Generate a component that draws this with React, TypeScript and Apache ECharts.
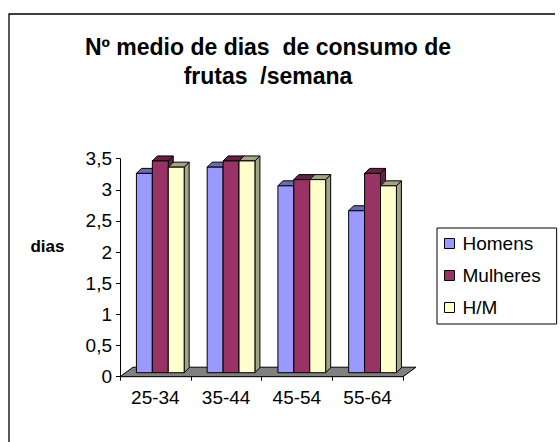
import React, { useEffect, useRef } from "react";
import * as echarts from "echarts";

const categories = ["25-34", "35-44", "45-54", "55-64"];
const homens = [3.2, 3.3, 3.0, 2.6];
const mulheres = [3.4, 3.4, 3.1, 3.2];
const hm = [3.3, 3.4, 3.1, 3.0];
const seriesNames = ["Homens", "Mulheres", "H/M"];
const yTicks = { min: 0, max: 3.5, interval: 0.5 };

const FONT = "Liberation Sans, Arial, sans-serif";
const fronts = ["#9999FF", "#993366", "#FFFFCC"];
const shades = ["#6B6BB3", "#662244", "#A3A385"];

const BAR_BASE_DY = 4; // bars stand mid-depth on the floor
const BAR_DEPTH = 5;
const FLOOR_DX = 13;
const FLOOR_DY = 9.5;

function barRenderer(si: number) {
  return (params: any, api: any) => {
    const idx = api.value(0);
    const v = api.value(1);
    const band = api.size([1, 0])[0];
    const c0 = api.coord([idx, 0]);
    const c1 = api.coord([idx, v]);
    const w = band * 0.225;
    const x = c0[0] - band * 0.268 + si * w;
    const y0 = c0[1] - BAR_BASE_DY;
    const top = c1[1] - BAR_BASE_DY;
    const d = BAR_DEPTH;
    const stroke = { stroke: "#000", lineWidth: 1 };
    return {
      type: "group",
      children: [
        {
          type: "polygon",
          shape: { points: [[x + w, top], [x + w + d, top - d], [x + w + d, y0 - d], [x + w, y0]] },
          style: { fill: shades[si], ...stroke },
        },
        {
          type: "polygon",
          shape: { points: [[x, top], [x + w, top], [x + w + d, top - d], [x + d, top - d]] },
          style: { fill: shades[si], ...stroke },
        },
        {
          type: "rect",
          shape: { x, y: top, width: w, height: y0 - top },
          style: { fill: fronts[si], ...stroke },
        },
      ],
    };
  };
}

export default function App() {
  const ref = useRef<HTMLDivElement>(null);
  useEffect(() => {
    if (!ref.current) return;
    const chart = echarts.init(ref.current, undefined, { renderer: "svg" });
    const datasets = [homens, mulheres, hm];
    chart.setOption({
      animation: false,
      backgroundColor: "#fff",
      textStyle: { fontFamily: FONT },
      grid: { left: 120, right: 157, top: 158.7, bottom: 65.3 },
      xAxis: {
        type: "category",
        data: categories,
        boundaryGap: true,
        axisLine: { show: true, lineStyle: { color: "#000", width: 1 } },
        axisTick: { show: true, length: 4, alignWithLabel: false, lineStyle: { color: "#000" } },
        axisLabel: { color: "#000", fontSize: 19, fontFamily: FONT, margin: 11 },
        splitLine: { show: false },
      },
      yAxis: {
        type: "value",
        min: yTicks.min,
        max: yTicks.max,
        interval: yTicks.interval,
        axisLine: { show: true, lineStyle: { color: "#000", width: 1 } },
        axisTick: { show: true, length: 4, lineStyle: { color: "#000" } },
        axisLabel: {
          color: "#000",
          fontSize: 19,
          fontFamily: FONT,
          margin: 8,
          formatter: (v: number) => String(v).replace(".", ","),
        },
        splitLine: { show: false },
      },
      legend: {
        data: seriesNames.map((n, i) => ({
          name: n,
          icon: "rect",
          itemStyle: { color: fronts[i], borderColor: "#000", borderWidth: 1 },
        })),
        orient: "vertical",
        left: 437,
        top: 228,
        padding: [6, 16, 7, 7],
        itemWidth: 10,
        itemHeight: 10,
        itemGap: 13,
        borderColor: "#000",
        borderWidth: 1,
        textStyle: { color: "#000", fontSize: 19, fontFamily: FONT, padding: [0, 0, 0, 3] },
        selectedMode: false,
      },
      graphic: [
        {
          type: "polyline",
          shape: { points: [[9, 442], [9, 14], [555, 14]] },
          style: { stroke: "#000", lineWidth: 1.3, fill: "none" },
          silent: true,
        },
        {
          type: "text",
          x: 268,
          y: 32.5,
          style: {
            text: "Nº medio de dias  de consumo de\nfrutas  /semana",
            font: `bold 23px ${FONT}`,
            fill: "#000",
            textAlign: "center",
            textVerticalAlign: "top",
            lineHeight: 29,
          },
        },
        {
          type: "text",
          x: 47.5,
          y: 246,
          style: {
            text: "dias",
            font: `bold 17px ${FONT}`,
            fill: "#000",
            textAlign: "center",
            textVerticalAlign: "middle",
          },
        },
      ],
      series: [
        {
          type: "custom",
          name: "floor",
          silent: true,
          data: [[0, 0]],
          renderItem: (params: any) => {
            const cs = params.coordSys;
            const by = cs.y + cs.height;
            return {
              type: "polygon",
              shape: {
                points: [
                  [cs.x, by],
                  [cs.x + cs.width, by],
                  [cs.x + cs.width + FLOOR_DX, by - FLOOR_DY],
                  [cs.x + FLOOR_DX, by - FLOOR_DY],
                ],
              },
              style: { fill: "#808080", stroke: "#000", lineWidth: 1 },
            };
          },
        },
        ...seriesNames.map((n, si) => ({
          type: "custom",
          name: n,
          itemStyle: { color: fronts[si], borderColor: "#000", borderWidth: 1 },
          data: datasets[si].map((v, i) => [i, v]),
          encode: { x: 0, y: 1 },
          renderItem: barRenderer(si),
        })),
      ],
    });
    return () => chart.dispose();
  }, []);
  return (
    <div
      ref={ref}
      style={{ position: "fixed", left: 0, top: 0, width: 560, height: 442 }}
    />
  );
}
